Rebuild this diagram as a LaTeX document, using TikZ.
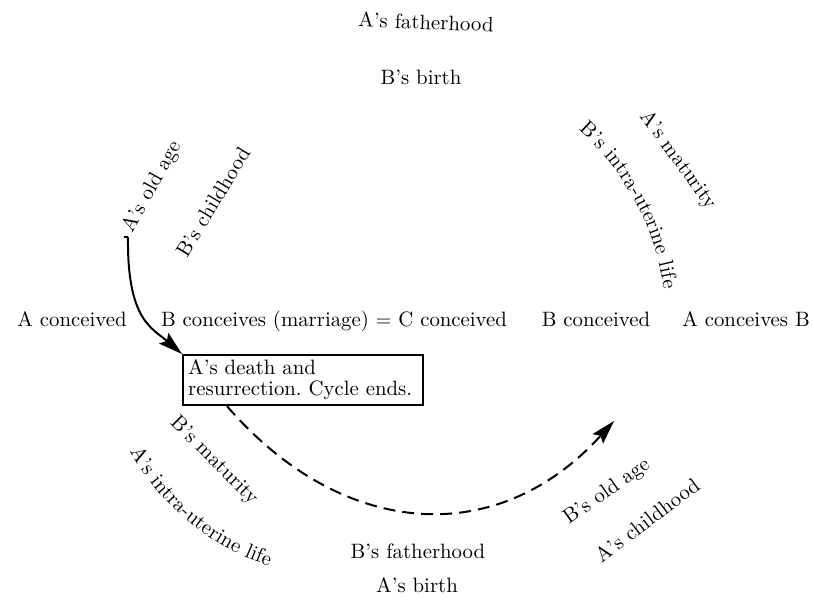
\documentclass[tikz,border=0pt]{standalone}
\usetikzlibrary{arrows.meta,decorations.text}

\tikzset{
  lifestage/.style={inner sep=0pt},
  lineevent/.style={anchor=base, inner sep=0pt},
  ringtext/.style={decorate, decoration={text along path, text align=center, text={#1}}},
  lifearrow/.style={line width=1pt, -{Stealth[length=12pt,width=7pt,inset=2pt]}},
}

\begin{document}
\frenchspacing
\fontsize{10.4pt}{12.5pt}\selectfont
\begin{tikzpicture}[x=0.5pt,y=-0.5pt]
    \useasboundingbox (0,0) rectangle (814,609);

    \node[lifestage, rotate=-2] (afather) at (426,22) {A's fatherhood};
    \node[lifestage] (bbirth) at (421,77) {B's birth};
    \node[lifestage, rotate=61] (aold) at (152,187) {A's old age};
    \node[lifestage, rotate=59] (bchild) at (213,202) {B's childhood};
    \node[lifestage, rotate=-54] (amature) at (678,160) {A's maturity};
    \node[lifestage, rotate=-45] (bmature) at (214,461) {B's maturity};
    \node[lifestage, rotate=35] (bold) at (607,492) {B's old age};
    \node[lifestage, rotate=37] (achild) at (647,520) {A's childhood};
    \node[lifestage] (bfather) at (418,551) {B's fatherhood};
    \node[lifestage] (abirth) at (417,585) {A's birth};

    \coordinate (bcirc) at (407,324);
    \coordinate (acirc) at (345,332);
    \path[ringtext={B's intra-uterine life}] ([shift={(-53.1:259)}]bcirc) arc[start angle=-53.1, end angle=-3.1, radius=259];
    \path[ringtext={A's intra-uterine life}] ([shift={(-204.5:246)}]acirc) arc[start angle=-204.5, end angle=-256.5, radius=246];

    \node[lineevent] (aconc) at (72,327) {A conceived};
    \node[lineevent] (bmarry) at (334,327) {B conceives (marriage) $=$ C conceived};
    \node[lineevent] (bconc) at (596,327) {B conceived};
    \node[lineevent] (aconcb) at (746,327) {A conceives B};

    \node[draw, line width=1.2pt, anchor=north west, text width=115pt, inner xsep=2.5pt, inner ysep=2.4pt, align=left, font=\fontsize{10.4pt}{10.5pt}\selectfont] (death) at (182,354) {A's death and\\resurrection. Cycle ends.};

    \coordinate (arrtop) at (128,237);
    \draw[line width=0.8pt] (arrtop) -- ++(-4,0);
    \draw[lifearrow] (arrtop) .. controls (127,320) and (152,328) .. (death.north west);

    \coordinate (arrend) at (614,421);
    \draw[lifearrow, dash pattern=on 6pt off 3.5pt] ([xshift=22.5pt]death.south west) .. controls (341,538) and (496,551) .. (arrend);
\end{tikzpicture}
\end{document}
